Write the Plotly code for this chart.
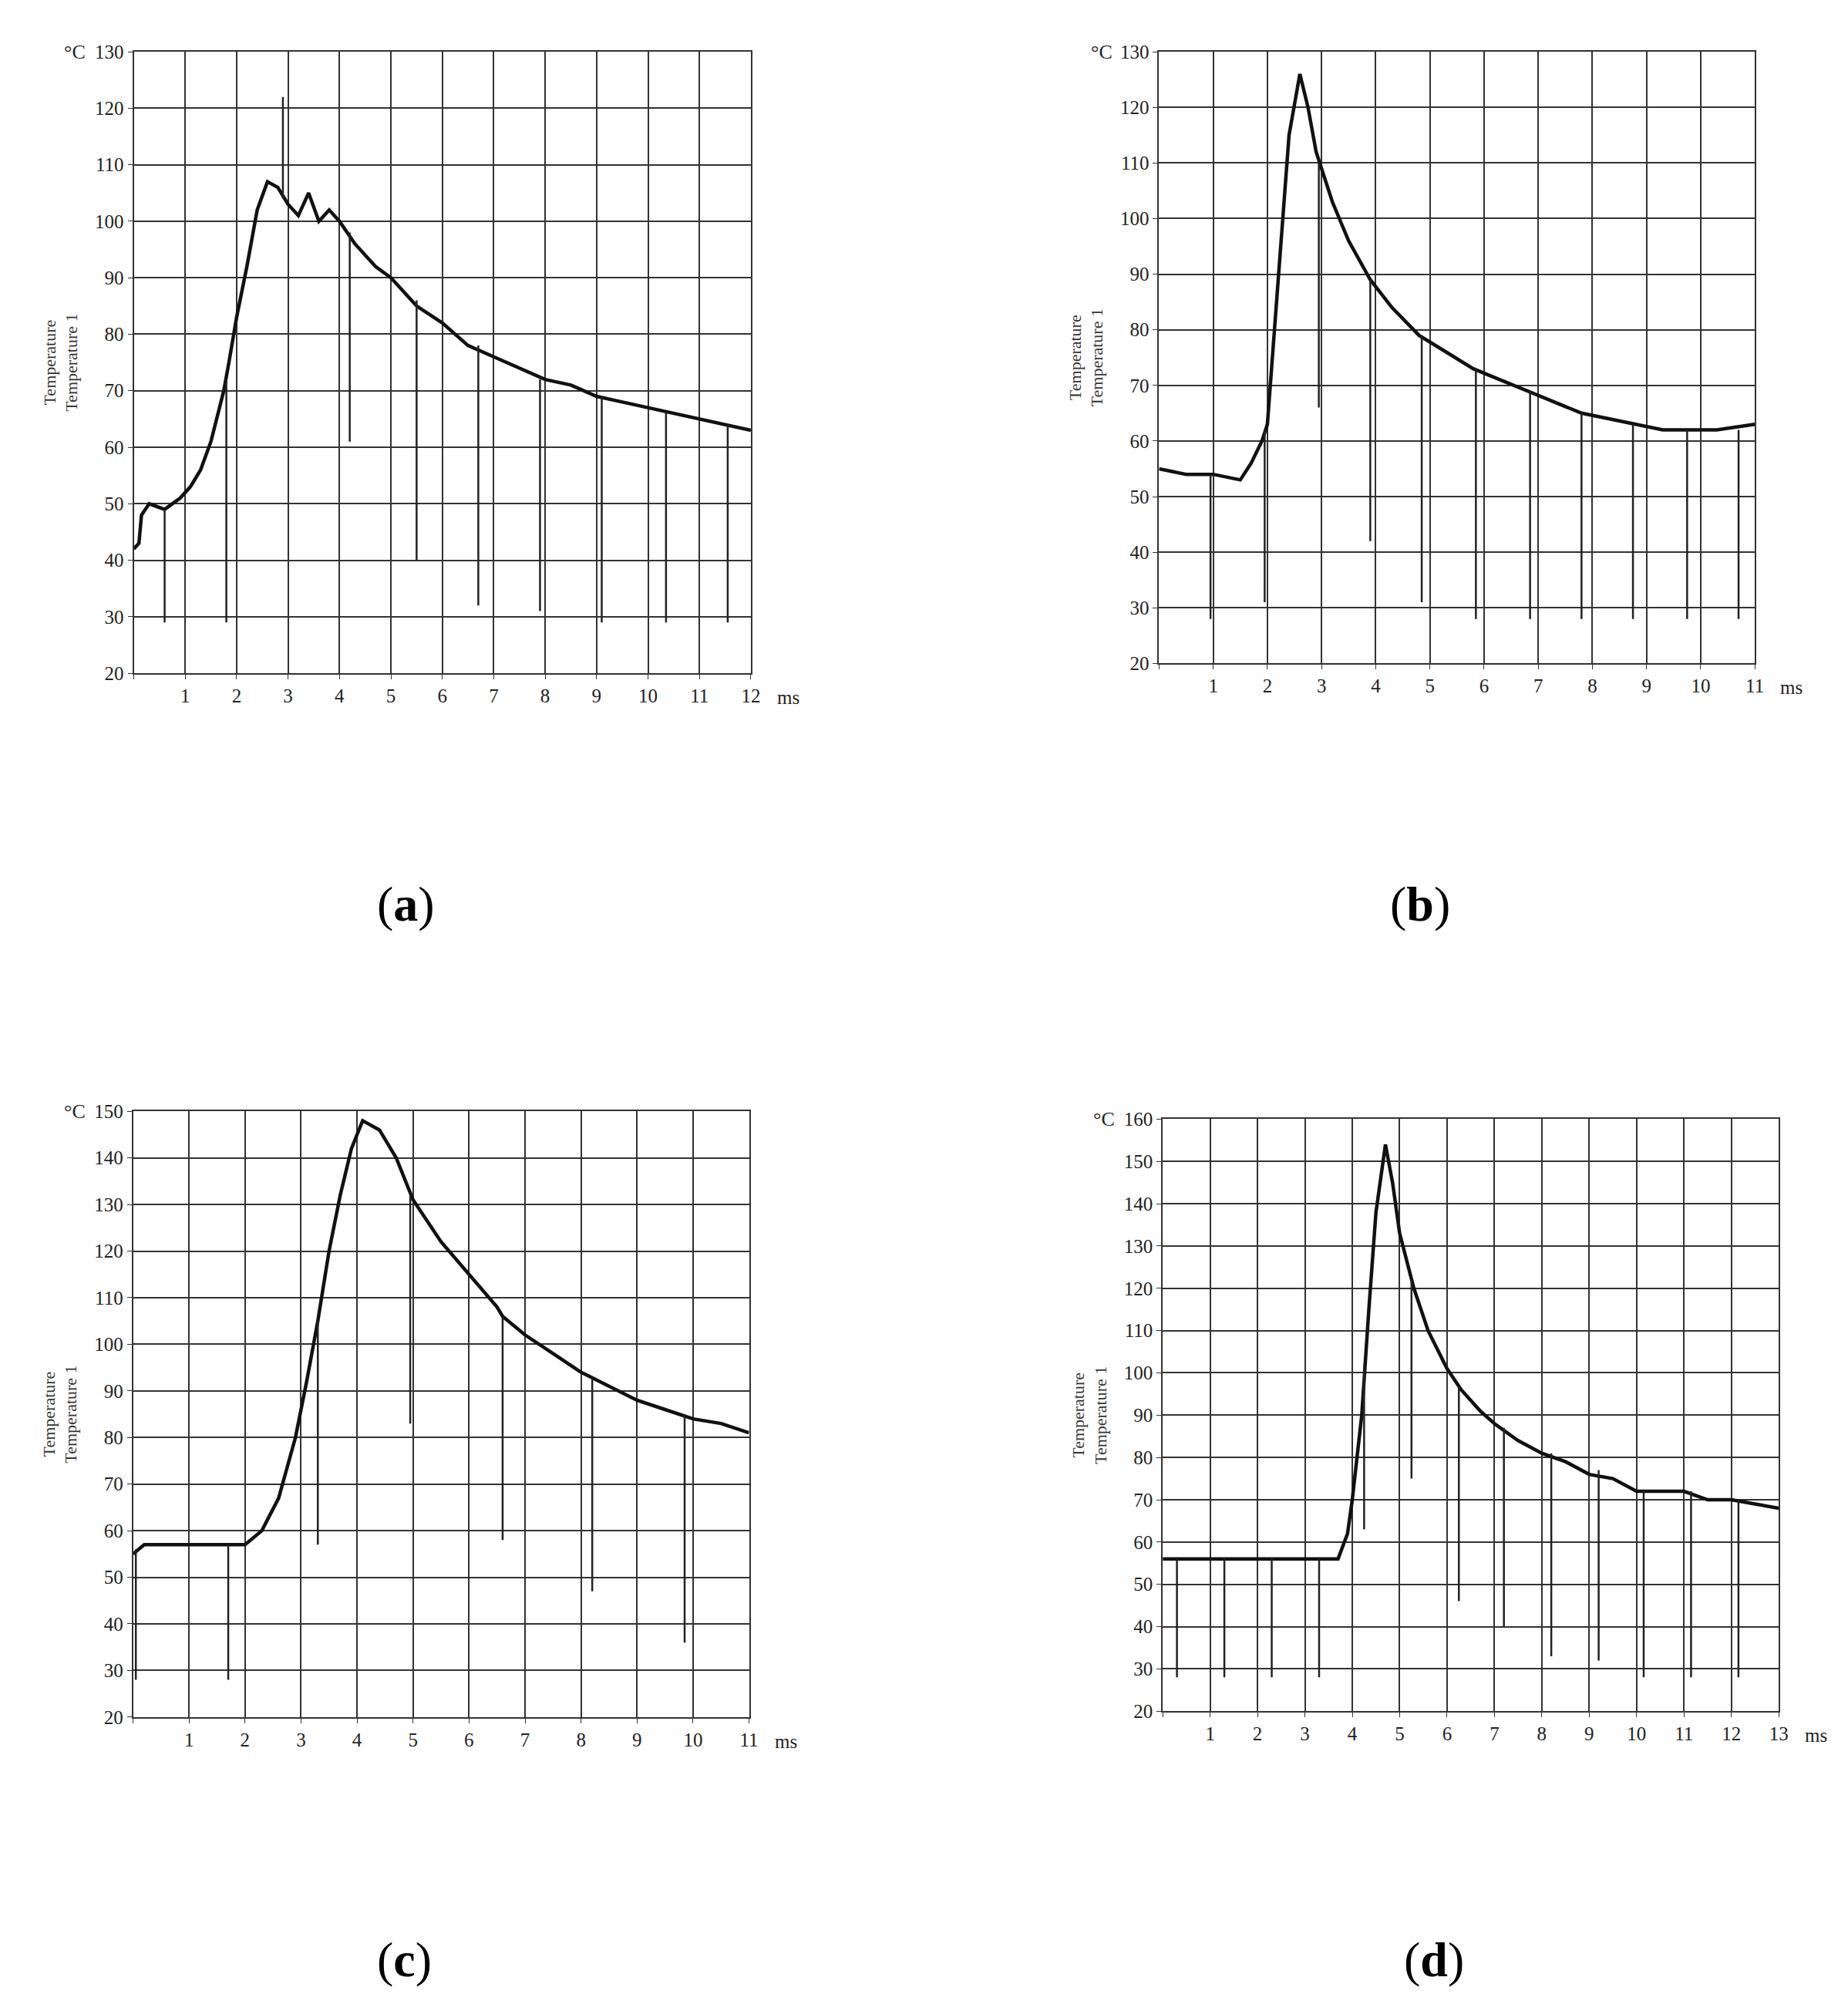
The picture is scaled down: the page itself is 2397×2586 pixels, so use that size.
import plotly.graph_objects as go

# ---- data ----
a_x = [0,0.1,0.15,0.3,0.6,0.9,1.1,1.3,1.5,1.7,1.75,1.85,2.0,2.2,2.4,2.6,2.8,3.0,3.2,3.4,3.6,3.8,4.0,4.3,4.7,5.0,5.5,6.0,6.5,7.0,7.5,8.0,8.5,9.0,9.5,10.0,10.5,11.0,11.5,12]
a_y = [42,43,48,50,49,51,53,56,61,68,70,75,83,92,102,107,106,103,101,105,100,102,100,96,92,90,85,82,78,76,74,72,71,69,68,67,66,65,64,63]
a_sx = [0.6,1.8,2.9,4.2,5.5,6.7,7.9,9.1,10.35,11.55]
a_sb = [49,72,104,98,86,78,72,69,66,64]
a_sm = [29,29,122,61,40,32,31,29,29,29]

b_x = [0,0.5,1,1.5,1.7,1.9,2.0,2.2,2.4,2.6,2.75,2.9,3.2,3.5,3.9,4.3,4.8,5.3,5.8,6.3,6.8,7.3,7.8,8.3,8.8,9.3,9.8,10.3,11]
b_y = [55,54,54,53,56,60,63,90,115,126,120,112,103,96,89,84,79,76,73,71,69,67,65,64,63,62,62,62,63]
b_sx = [0.95,1.95,2.95,3.9,4.85,5.85,6.85,7.8,8.75,9.75,10.7]
b_sb = [54,62,110,89,79,73,69,65,63,62,62]
b_sm = [28,31,66,42,31,28,28,28,28,28,28]

c_x = [0,0.2,1,1.6,1.8,2,2.3,2.6,2.9,3.1,3.3,3.5,3.7,3.9,4.1,4.4,4.7,5.0,5.5,6.0,6.5,6.6,7.0,7.5,8.0,8.5,9.0,9.5,10,10.5,11]
c_y = [55,57,57,57,57,57,60,67,80,92,105,120,132,142,148,146,140,131,122,115,108,106,102,98,94,91,88,86,84,83,81]
c_sx = [0.05,1.7,3.3,4.95,6.6,8.2,9.85]
c_sb = [56,57,105,132,106,93,85]
c_sm = [28,28,57,83,58,47,36]

d_x = [0,3.7,3.9,4.0,4.1,4.2,4.35,4.5,4.7,4.85,5.0,5.3,5.6,6.0,6.3,6.7,7.0,7.5,8.0,8.5,9.0,9.5,10,10.5,11,11.5,12,12.5,13]
d_y = [56,56,62,70,80,90,115,138,154,145,133,120,110,101,96,91,88,84,81,79,76,75,72,72,72,70,70,69,68]
d_sx = [0.3,1.3,2.3,3.3,4.25,5.25,6.25,7.2,8.2,9.2,10.15,11.15,12.15]
d_sb = [56,56,56,56,102,122,97,87,81,77,72,72,70]
d_sm = [28,28,28,28,63,75,46,40,33,32,28,28,28]

panels = [
    dict(x=a_x, y=a_y, sx=a_sx, sb=a_sb, sm=a_sm, xmax=12, ymin=20, ymax=130, label="a",
         dx=[0.0694, 0.405], dy=[0.667, 0.982]),
    dict(x=b_x, y=b_y, sx=b_sx, sb=b_sb, sm=b_sm, xmax=11, ymin=20, ymax=130, label="b",
         dx=[0.627, 0.951], dy=[0.672, 0.982]),
    dict(x=c_x, y=c_y, sx=c_sx, sb=c_sb, sm=c_sm, xmax=11, ymin=20, ymax=150, label="c",
         dx=[0.069, 0.404], dy=[0.138, 0.445]),
    dict(x=d_x, y=d_y, sx=d_sx, sb=d_sb, sm=d_sm, xmax=13, ymin=20, ymax=160, label="d",
         dx=[0.629, 0.964], dy=[0.141, 0.441]),
]

fig = go.Figure()
font = "Liberation Serif"
for i, p in enumerate(panels, start=1):
    xa = "x" if i == 1 else f"x{i}"
    ya = "y" if i == 1 else f"y{i}"
    fig.add_trace(go.Scatter(x=p["x"], y=p["y"], mode="lines", xaxis=xa, yaxis=ya,
                             line=dict(color="#111", width=4.5), showlegend=False))
    sxs, sys = [], []
    for xx, b, m in zip(p["sx"], p["sb"], p["sm"]):
        sxs += [xx, xx, None]
        sys += [b, m, None]
    fig.add_trace(go.Scatter(x=sxs, y=sys, mode="lines", xaxis=xa, yaxis=ya,
                             line=dict(color="#222", width=2.5), showlegend=False))
    xl = "xaxis" if i == 1 else f"xaxis{i}"
    yl = "yaxis" if i == 1 else f"yaxis{i}"
    xt = list(range(0, p["xmax"] + 1))
    yt = list(range(p["ymin"], p["ymax"] + 1, 10))
    fig.layout[xl] = dict(domain=p["dx"], anchor=ya, range=[0, p["xmax"]],
                          tickvals=xt, ticktext=[""] + [str(v) for v in xt[1:]],
                          showgrid=True, gridcolor="#333", gridwidth=1.8,
                          showline=True, linecolor="#333", linewidth=1.8, mirror=True,
                          ticks="outside", ticklen=6, tickcolor="#333", zeroline=False,
                          tickfont=dict(family=font, size=25, color="#222"))
    fig.layout[yl] = dict(domain=p["dy"], anchor=xa, range=[p["ymin"], p["ymax"]],
                          tickvals=yt, showgrid=True, gridcolor="#333", gridwidth=1.8,
                          showline=True, linecolor="#333", linewidth=1.8, mirror=True,
                          ticks="outside", ticklen=6, tickcolor="#333", zeroline=False,
                          tickfont=dict(family=font, size=25, color="#222"),
                          title=dict(text="Temperature<br>Temperature 1", standoff=16,
                                     font=dict(family=font, size=22, color="#333")))
    xr = "x domain" if i == 1 else f"x{i} domain"
    yr = "y domain" if i == 1 else f"y{i} domain"
    fig.add_annotation(xref=xr, yref=yr, x=-0.075, y=1.0, text="°C", showarrow=False,
                       xanchor="right", yanchor="middle", font=dict(family=font, size=26, color="#222"))
    fig.add_annotation(xref=xr, yref=yr, x=1.04, y=-0.02, text="ms", showarrow=False,
                       xanchor="left", yanchor="top", font=dict(family=font, size=25, color="#222"))
    cx = (p["dx"][0] + p["dx"][1]) / 2 - 0.02
    cy = 0.55 if p["label"] in "ab" else 0.015
    fig.add_annotation(xref="paper", yref="paper", x=cx, y=cy,
                       text=f"(<b>{p['label']}</b>)", showarrow=False,
                       xanchor="center", yanchor="middle", font=dict(family=font, size=64, color="#000"))

fig.update_layout(width=2397, height=2586, margin=dict(l=0, r=0, t=0, b=0),
                  paper_bgcolor="white", plot_bgcolor="white")
fig.write_html("out.html")
